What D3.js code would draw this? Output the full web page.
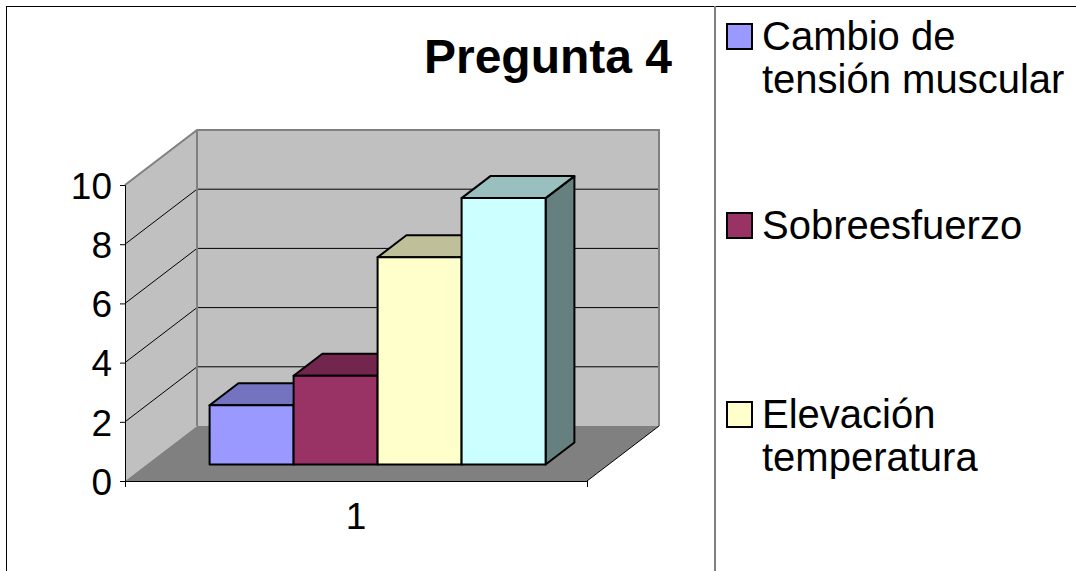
<!DOCTYPE html>
<html>
<head>
<meta charset="utf-8">
<script src="https://cdn.jsdelivr.net/npm/d3@7/dist/d3.min.js"></script>
<style>
  html, body { margin: 0; padding: 0; background: #fff; overflow: hidden; }
  svg { display: block; font-family: "Liberation Sans", Arial, Helvetica, sans-serif; }
</style>
</head>
<body>
<svg id="chart" width="1076" height="571"></svg>
<script>
// Chart data
const title = "Pregunta 4";
const categories = ["1"];
const seriesNames = ["Cambio de tensión muscular", "Sobreesfuerzo", "Elevación temperatura", ""];
const seriesValues = [2, 3, 7, 9];
const seriesColors = ["#9999ff", "#993366", "#ffffcc", "#ccffff"];
const legendLines = [["Cambio de", "tensión muscular"], ["Sobreesfuerzo"], ["Elevación", "temperatura"]];
const yTicks = [0, 2, 4, 6, 8, 10];

const svg = d3.select("#chart");

// Plot geometry (front plane + depth offset for the 3-D effect)
const plot = { left: 125, right: 587, top: 185, bottom: 481 };
const depth = { dx: 72, dy: -55 };
const barDepth = [0.3, 0.7];

const y = d3.scaleLinear().domain([0, 10]).range([plot.bottom, plot.top]);
const xCat = d3.scaleBand().domain(categories).range([plot.left, plot.right]);

// gap width 150% of a bar
const gapRatio = 1.5;
const unit = xCat.bandwidth() / (seriesValues.length + gapRatio);
const xSer = d3.scaleBand()
  .domain(d3.range(seriesValues.length))
  .range([xCat("1") + unit * gapRatio / 2, xCat("1") + xCat.bandwidth() - unit * gapRatio / 2]);

// project a front-plane point back by depth fraction d
const P = (x, yy, d) => [x + depth.dx * d, yy + depth.dy * d];
const pts = arr => arr.map(p => p.join(",")).join(" ");

// Outer frame and legend divider
svg.append("rect").attr("x", 6.5).attr("y", 6.5).attr("width", 1200).attr("height", 700)
  .attr("fill", "#fff").attr("stroke", "#000").attr("stroke-width", 1);
svg.append("line").attr("x1", 715).attr("x2", 715).attr("y1", 6).attr("y2", 571)
  .attr("stroke", "#808080").attr("stroke-width", 2);

// Walls and floor
const g = svg.append("g");
const y0 = y(0), y10 = y(10);
g.append("polygon").attr("points", pts([[plot.left, y0], [plot.left, y10], P(plot.left, y10, 1), P(plot.left, y0, 1)]))
  .attr("fill", "#c0c0c0");
g.append("polygon").attr("points", pts([P(plot.left, y10, 1), P(plot.right, y10, 1), P(plot.right, y0, 1), P(plot.left, y0, 1)]))
  .attr("fill", "#c0c0c0");
g.append("polygon").attr("points", pts([[plot.left, y0], P(plot.left, y0, 1), P(plot.right, y0, 1), [plot.right, y0]]))
  .attr("fill", "#808080");

// Gridlines on side and back walls
const inner = yTicks.filter(t => t > 0 && t < 10);
inner.forEach(t => {
  const a = [plot.left, y(t)], b = P(plot.left, y(t), 1), c = P(plot.right, y(t), 1);
  g.append("polyline").attr("points", pts([a, b, c]))
    .attr("fill", "none").attr("stroke", "#000").attr("stroke-width", 1);
});

// Wall edges
g.append("polyline")
  .attr("points", pts([[plot.left, y10], P(plot.left, y10, 1), P(plot.right, y10, 1), P(plot.right, y0, 1)]))
  .attr("fill", "none").attr("stroke", "#808080").attr("stroke-width", 2);
g.append("line").attr("x1", P(plot.left, y10, 1)[0]).attr("y1", P(plot.left, y10, 1)[1])
  .attr("x2", P(plot.left, y0, 1)[0]).attr("y2", P(plot.left, y0, 1)[1])
  .attr("stroke", "#808080").attr("stroke-width", 2);
// floor right edge
g.append("line").attr("x1", plot.right).attr("y1", y0)
  .attr("x2", P(plot.right, y0, 1)[0]).attr("y2", P(plot.right, y0, 1)[1])
  .attr("stroke", "#000").attr("stroke-width", 1);

// Bars
const shade = (c, k) => { const r = d3.rgb(c); return d3.rgb(r.r * k, r.g * k, r.b * k).formatHex(); };
const bars = svg.append("g");
seriesValues.forEach((v, i) => {
  const xl = xSer(i), xr = xSer(i) + xSer.bandwidth();
  const d0 = barDepth[0], d1 = barDepth[1];
  const yt = y(v), yb = y(0);
  const bg = bars.append("g").attr("stroke", "#000").attr("stroke-width", 2).attr("stroke-linejoin", "round");
  bg.append("polygon").attr("points", pts([P(xr, yb, d0), P(xr, yt, d0), P(xr, yt, d1), P(xr, yb, d1)]))
    .attr("fill", shade(seriesColors[i], 0.5));
  bg.append("polygon").attr("points", pts([P(xl, yt, d0), P(xr, yt, d0), P(xr, yt, d1), P(xl, yt, d1)]))
    .attr("fill", shade(seriesColors[i], 0.75));
  bg.append("polygon").attr("points", pts([P(xl, yb, d0), P(xr, yb, d0), P(xr, yt, d0), P(xl, yt, d0)]))
    .attr("fill", seriesColors[i]);
});

// Y axis
const yAxis = svg.append("g").attr("transform", `translate(${plot.left},0)`)
  .call(d3.axisLeft(y).tickValues(yTicks).tickSize(5).tickPadding(8));
yAxis.select(".domain").attr("stroke", "#000").attr("stroke-width", 1);
yAxis.selectAll(".tick line").attr("stroke", "#000");
yAxis.selectAll(".tick text").attr("font-size", 37).attr("fill", "#000")
  .attr("font-family", "'Liberation Sans', Arial, sans-serif").attr("dy", "0.36em");

// X axis
const xAxis = svg.append("g").attr("transform", `translate(0,${y0})`)
  .call(d3.axisBottom(xCat).tickSize(0).tickPadding(22));
xAxis.select(".domain").remove();
svg.append("line").attr("x1", plot.left).attr("x2", plot.right).attr("y1", y0 + 0.5).attr("y2", y0 + 0.5)
  .attr("stroke", "#000").attr("stroke-width", 1);
[plot.left, plot.right].forEach(xx => svg.append("line").attr("x1", xx + 0.5).attr("x2", xx + 0.5)
  .attr("y1", y0).attr("y2", y0 + 6).attr("stroke", "#000").attr("stroke-width", 1));
xAxis.selectAll(".tick text").attr("font-size", 37).attr("fill", "#000")
  .attr("font-family", "'Liberation Sans', Arial, sans-serif").attr("dy", "0.71em");

// Title
svg.append("text").attr("x", 672).attr("y", 73).attr("text-anchor", "end")
  .attr("font-size", 48).attr("font-weight", "bold").attr("fill", "#000").text(title);

// Legend
const legend = svg.append("g");
legendLines.forEach((lines, i) => {
  const base = 50 + 189 * i;
  legend.append("rect").attr("x", 727).attr("y", base - 26).attr("width", 25).attr("height", 25)
    .attr("fill", seriesColors[i]).attr("stroke", "#000").attr("stroke-width", 2);
  const t = legend.append("text").attr("x", 762).attr("y", base).attr("font-size", 40).attr("fill", "#000");
  lines.forEach((ln, j) => t.append("tspan").attr("x", 762).attr("y", base + j * 43).text(ln));
});
</script>
</body>
</html>
